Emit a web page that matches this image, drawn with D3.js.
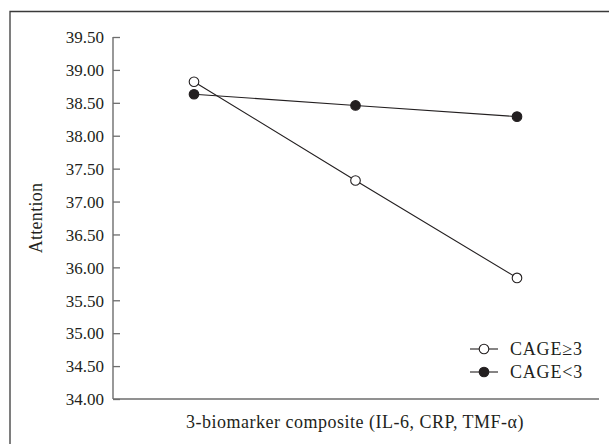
<!DOCTYPE html>
<html>
<head>
<meta charset="utf-8">
<script src="https://cdn.jsdelivr.net/npm/d3@7"></script>
<style>
  body { margin: 0; background: #fff; }
  svg { display: block; }
  text { font-family: "Liberation Serif", "DejaVu Serif", serif; fill: #231f20; }
</style>
</head>
<body>
<svg id="chart"></svg>
<script>
// Chart data
const levels = ["low", "mid", "high"];
const seriesNames = ["CAGE\u22653", "CAGE<3"];
const cageHigh = [38.82, 37.32, 35.84];
const cageLow = [38.63, 38.46, 38.29];
const yTicks = [34.0, 34.5, 35.0, 35.5, 36.0, 36.5, 37.0, 37.5, 38.0, 38.5, 39.0, 39.5];

const W = 609, H = 444;
const margin = { top: 37, right: 10, bottom: 45, left: 113 };

const svg = d3.select("#chart").attr("width", W).attr("height", H);

// outer frame (only left and top edges visible)
svg.append("path")
  .attr("d", `M10,${H} V11.5 H${W}`)
  .attr("fill", "none")
  .attr("stroke", "#3a3a3a")
  .attr("stroke-width", 1.3);

const x = d3.scalePoint()
  .domain(levels)
  .range([194, 517]);

const y = d3.scaleLinear()
  .domain([34, 39.5])
  .range([399, 37]);

// y axis, ticks pointing inward
const yAxis = svg.append("g")
  .attr("transform", `translate(${margin.left},0)`)
  .call(d3.axisRight(y).tickValues(yTicks).tickSize(7).tickFormat(d3.format(".2f")));
yAxis.select(".domain").attr("stroke", "#6d6d6d").attr("stroke-width", 1.4)
  .attr("d", `M0,${y(39.5)}V${y(34)}`);
yAxis.selectAll(".tick line").attr("stroke", "#6d6d6d").attr("stroke-width", 1.3);
yAxis.selectAll(".tick text")
  .attr("x", -9)
  .attr("text-anchor", "end")
  .attr("dy", "0.34em")
  .style("font-size", "17px")
  .attr("fill", "#231f20");

// x axis line
svg.append("line")
  .attr("x1", margin.left).attr("x2", 599)
  .attr("y1", y(34)).attr("y2", y(34))
  .attr("stroke", "#6d6d6d")
  .attr("stroke-width", 1.4);

// axis titles
svg.append("text")
  .attr("x", 355).attr("y", 428)
  .attr("text-anchor", "middle")
  .style("font-size", "18px")
  .style("letter-spacing", "0.5px")
  .text("3-biomarker composite (IL-6, CRP, TMF-\u03b1)");

svg.append("text")
  .attr("transform", "translate(42,218) rotate(-90)")
  .attr("text-anchor", "middle")
  .style("font-size", "18px")
  .style("letter-spacing", "0.3px")
  .text("Attention");

const line = d3.line()
  .x((d, i) => x(levels[i]))
  .y(d => y(d));

const series = [
  { name: seriesNames[0], values: cageHigh, fill: "#fff" },
  { name: seriesNames[1], values: cageLow, fill: "#231f20" }
];

series.forEach(s => {
  svg.append("path")
    .datum(s.values)
    .attr("d", line)
    .attr("fill", "none")
    .attr("stroke", "#231f20")
    .attr("stroke-width", 1.1);
});

series.forEach(s => {
  svg.selectAll(null)
    .data(s.values)
    .enter().append("circle")
    .attr("cx", (d, i) => x(levels[i]))
    .attr("cy", d => y(d))
    .attr("r", 4.8)
    .attr("fill", s.fill)
    .attr("stroke", "#231f20")
    .attr("stroke-width", 1.1);
});

// legend
const legend = svg.append("g").attr("transform", "translate(470,349)");
series.forEach((s, i) => {
  const g = legend.append("g").attr("transform", `translate(0,${i * 23})`);
  g.append("line")
    .attr("x1", 0).attr("x2", 28)
    .attr("stroke", "#231f20").attr("stroke-width", 1.1);
  g.append("circle")
    .attr("cx", 14).attr("r", 4.8)
    .attr("fill", s.fill)
    .attr("stroke", "#231f20").attr("stroke-width", 1.1);
  g.append("text")
    .attr("x", 40).attr("dy", "0.35em")
    .style("font-size", "18px")
    .style("letter-spacing", "0.8px")
    .text(s.name);
});
</script>
</body>
</html>
